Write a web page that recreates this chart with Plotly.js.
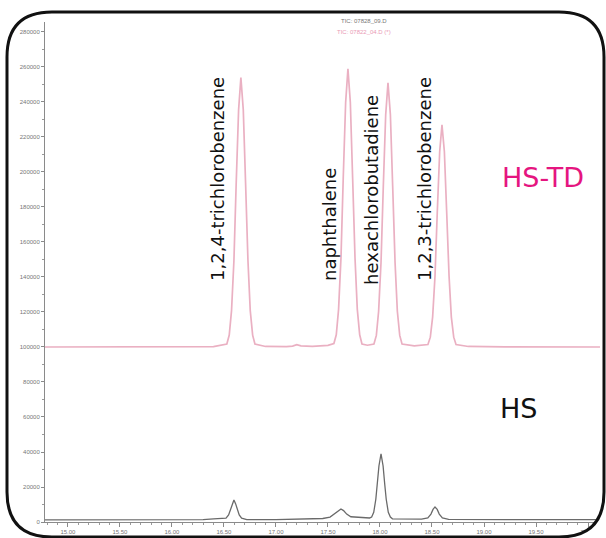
<!DOCTYPE html>
<html>
<head>
<meta charset="utf-8">
<script src="https://cdn.plot.ly/plotly-3.0.1.min.js"></script>
<style>html,body{margin:0;padding:0;background:#fff;}#chart{width:606px;height:538px;}</style>
</head>
<body>
<div id="chart"></div>
<script>
// HS-TD trace (drawn offset on the axis, as displayed)
var hstdTime = [14.78,15.40,16.00,16.40,16.528,16.551,16.573,16.596,16.618,16.641,16.663,16.686,16.708,16.731,16.753,16.776,16.798,16.90,17.10,17.16,17.20,17.24,17.35,17.50,
  17.557,17.580,17.602,17.625,17.647,17.670,17.692,17.715,17.737,17.760,17.782,17.805,17.827,17.88,
  17.942,17.965,17.987,18.010,18.032,18.055,18.077,18.100,18.122,18.145,18.167,18.190,18.212,18.33,
  18.461,18.484,18.506,18.529,18.551,18.574,18.596,18.619,18.641,18.664,18.686,18.709,18.731,18.85,19.20,19.70,20.115];
var hstdValue = [100000,100000,100000,100200,101700,106800,120800,149300,193900,235500,254000,235500,193900,149300,120800,106800,101700,100300,100200,100500,101300,100600,100400,100900,
  102000,107000,121500,150800,196900,239800,258900,239800,196900,150800,121500,107000,101700,101000,
  101700,106600,120400,148300,192000,232800,250900,232800,192000,148300,120400,106600,101700,100600,
  101400,105600,117100,140600,177400,211700,226900,211700,177400,140600,117100,105600,101400,100300,100100,100000,100000];

// HS trace
var hsTime = [14.78,15.50,16.30,16.40,16.50,16.52,16.545,16.565,16.58,16.596,16.612,16.627,16.647,16.67,16.72,17.00,17.30,17.45,17.52,17.57,17.60,17.625,17.65,17.68,17.72,17.80,17.90,
  17.92,17.94,17.96,17.975,17.99,18.010,18.03,18.045,18.06,18.08,18.10,18.12,18.40,18.46,18.49,18.51,18.529,18.55,18.57,18.60,18.66,19.20,20.115];
var hsValue = [1200,1200,1300,1800,2000,2200,4000,7500,10500,12600,10500,7500,4000,2200,1400,1300,1500,2000,2800,4800,6500,7400,6500,4500,3000,2600,2300,
  2800,5500,13000,22000,32000,38900,32000,22000,13000,5500,2800,1800,1600,2300,4500,7200,8600,7200,4500,2300,1500,1300,1300];

// peak labels
var peakNames = ["1,2,4-trichlorobenzene","naphthalene","hexachlorobutadiene","1,2,3-trichlorobenzene"];
var peakLabelTime = [16.442,17.510,17.913,18.433];
var peakLabelValue = [196000,169700,189700,196000];

var seriesNames = ["HS-TD","HS"];
var seriesLabelTime = [19.567,19.327];
var seriesLabelValue = [197100,65100];
var seriesColors = ["#e5157f","#111111"];

var fileLines = ["TIC: 07828_09.D","TIC: 07822_04.D (*)"];

var yTicks = [0,20000,40000,60000,80000,100000,120000,140000,160000,180000,200000,220000,240000,260000,280000];

// pixel -> paper helpers for decoration
var W=606,H=538,ML=45,MR=6,MT=22,MB=16;
var PW=W-ML-MR, PH=H-MT-MB;
function fx(px){return ((px-ML)/PW).toFixed(5);}
function fy(py){return ((H-MB-py)/PH).toFixed(5);}
function P(px,py){return fx(px)+','+fy(py);}
var L=7,R=604,T=12,B=537,r=45;
var framePath='M'+P(L+r,T)+' L'+P(R-r,T)+' Q'+P(R,T)+' '+P(R,T+r)+' L'+P(R,B-r)+' Q'+P(R,B)+' '+P(R-r,B)+
  ' L'+P(L+r,B)+' Q'+P(L,B)+' '+P(L,B-r)+' L'+P(L,T+r)+' Q'+P(L,T)+' '+P(L+r,T)+' Z';
var masks=[
  'M'+P(0,0)+' L'+P(0,T+r)+' L'+P(L,T+r)+' Q'+P(L,T)+' '+P(L+r,T)+' L'+P(L+r,0)+' Z',
  'M'+P(W,0)+' L'+P(W,T+r)+' L'+P(R,T+r)+' Q'+P(R,T)+' '+P(R-r,T)+' L'+P(R-r,0)+' Z',
  'M'+P(0,H+5)+' L'+P(0,B-r)+' L'+P(L,B-r)+' Q'+P(L,B)+' '+P(L+r,B)+' L'+P(L+r,H+5)+' Z',
  'M'+P(W,H+5)+' L'+P(W,B-r)+' L'+P(R,B-r)+' Q'+P(R,B)+' '+P(R-r,B)+' L'+P(R-r,H+5)+' Z',
  'M'+P(0,0)+' L'+P(L,0)+' L'+P(L,H+5)+' L'+P(0,H+5)+' Z',
  'M'+P(R,0)+' L'+P(W,0)+' L'+P(W,H+5)+' L'+P(R,H+5)+' Z'
];
var shapes=masks.map(function(p){return {type:'path',xref:'paper',yref:'paper',path:p,fillcolor:'#ffffff',line:{width:0},layer:'above'};});
shapes.push({type:'path',xref:'paper',yref:'paper',path:framePath,line:{color:'#111111',width:3},fillcolor:'rgba(0,0,0,0)',layer:'above'});

var traces=[
  {x:hstdTime,y:hstdValue,type:'scatter',mode:'lines',name:seriesNames[0],line:{color:'#eab0c2',width:1.7},hoverinfo:'skip'},
  {x:hsTime,y:hsValue,type:'scatter',mode:'lines',name:seriesNames[1],line:{color:'#6a6a6a',width:1.3},hoverinfo:'skip'}
];

var annotations=[];
for(var i=0;i<peakNames.length;i++){
  annotations.push({x:peakLabelTime[i],y:peakLabelValue[i],xref:'x',yref:'y',text:peakNames[i],showarrow:false,textangle:-90,
    xanchor:'center',yanchor:'middle',font:{family:'DejaVu Sans',size:18,color:'#111111'}});
}
for(var j=0;j<seriesNames.length;j++){
  annotations.push({x:seriesLabelTime[j],y:seriesLabelValue[j],xref:'x',yref:'y',text:seriesNames[j],showarrow:false,
    xanchor:'center',yanchor:'middle',font:{family:'DejaVu Sans',size:27,color:seriesColors[j]}});
}
annotations.push({x:fx(364),y:fy(21),xref:'paper',yref:'paper',text:fileLines[0],showarrow:false,xanchor:'center',yanchor:'middle',font:{family:'Liberation Sans',size:6,color:'#777777'}});
annotations.push({x:fx(364),y:fy(32),xref:'paper',yref:'paper',text:fileLines[1],showarrow:false,xanchor:'center',yanchor:'middle',font:{family:'Liberation Sans',size:6,color:'#e99ab5'}});

var layout={
  width:W,height:H,margin:{l:ML,r:MR,t:MT,b:MB,pad:0},
  paper_bgcolor:'#ffffff',plot_bgcolor:'#ffffff',showlegend:false,
  xaxis:{range:[14.78,20.115],tick0:15,dtick:0.5,tickformat:'.2f',showgrid:false,zeroline:false,
    showline:true,linecolor:'#8a8a8a',linewidth:1,ticks:'outside',ticklen:4,tickcolor:'#8a8a8a',
    minor:{dtick:0.1,ticks:'outside',ticklen:2,tickcolor:'#9a9a9a'},
    tickfont:{family:'Liberation Sans',size:6,color:'#777777'}},
  yaxis:{range:[0,285700],tickvals:yTicks,ticktext:yTicks.map(String),showgrid:false,zeroline:false,
    showline:true,linecolor:'#8a8a8a',linewidth:1,ticks:'outside',ticklen:3,tickcolor:'#8a8a8a',
    minor:{dtick:10000,ticks:'outside',ticklen:2,tickcolor:'#9a9a9a'},
    tickfont:{family:'Liberation Sans',size:6,color:'#777777'}},
  annotations:annotations,
  shapes:shapes
};
Plotly.newPlot('chart',traces,layout,{staticPlot:true,displayModeBar:false});
</script>
</body>
</html>
